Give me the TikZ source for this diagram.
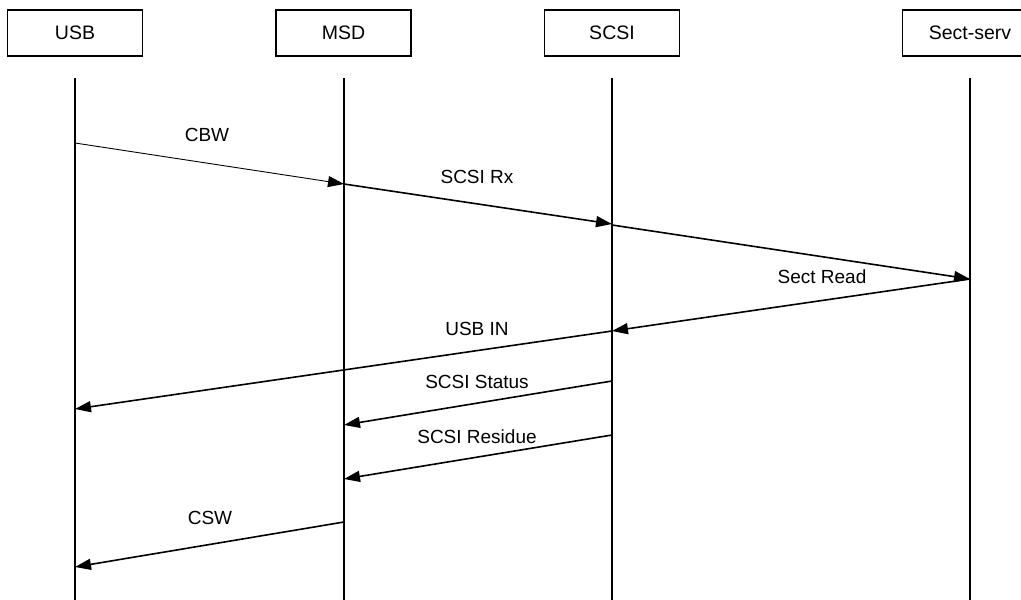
\documentclass[tikz,border=0pt]{standalone}
\usepackage{fontspec}
\setmainfont{Liberation Sans}
\usetikzlibrary{arrows.meta}
\begin{document}
\begin{tikzpicture}[x=1pt,y=-1pt,
  actor/.style={draw,line width=1.4pt,minimum width=135pt,minimum height=46pt,inner sep=0pt,font=\fontsize{19.5}{21}\selectfont},
  life/.style={line width=1.4pt},
  msg/.style={line width=1.6pt,-{Triangle[length=16pt,width=11pt]}},
  thinmsg/.style={line width=0.9pt,-{Triangle[length=16pt,width=11pt]}},
  lbl/.style={font=\fontsize{19}{21}\selectfont,inner sep=0pt}]
\useasboundingbox (0,0) rectangle (1021,600);
\clip (0,0) rectangle (1021,600);
% actors
\node[actor] (usb) at (75,33) {USB};
\node[actor] (msd) at (343.5,33) {MSD};
\node[actor] (scsi) at (612,33) {SCSI};
\node[actor] (sect) at (970,33) {Sect-serv};
% lifelines
\coordinate (usbT) at (75,78);   \coordinate (usbB) at (75,600);
\coordinate (msdT) at (344,78);  \coordinate (msdB) at (344,600);
\coordinate (scsiT) at (612,78); \coordinate (scsiB) at (612,600);
\coordinate (sectT) at (970,78); \coordinate (sectB) at (970,600);
\draw[life] (usbT) -- (usbB);
\draw[life] (msdT) -- (msdB);
\draw[life] (scsiT) -- (scsiB);
\draw[life] (sectT) -- (sectB);
% message points
\coordinate (u1) at (75,143);   \coordinate (m1) at (344,184);
\coordinate (s1) at (612,224);  \coordinate (s2) at (612,225);
\coordinate (e1) at (970,279);  \coordinate (s3) at (612,331);
\coordinate (u2) at (75,409);
\coordinate (s4) at (612,381);  \coordinate (m2) at (344,425);
\coordinate (s5) at (612,435);  \coordinate (m3) at (344,479);
\coordinate (m4) at (344,522);  \coordinate (u3) at (75,567);
% messages
\draw[thinmsg] (u1) -- (m1);
\draw[msg] (m1) -- (s1);
\draw[msg] (s2) -- (e1);
\draw[msg] (e1) -- (s3);
\draw[msg] (s3) -- (u2);
\draw[msg] (s4) -- (m2);
\draw[msg] (s5) -- (m3);
\draw[msg] (m4) -- (u3);
% labels
\node[lbl] (lcbw) at (207,135) {CBW};
\node[lbl] (lrx) at (477,177) {SCSI Rx};
\node[lbl] (lsr) at (822,277) {Sect Read};
\node[lbl] (lin) at (477,329) {USB IN};
\node[lbl] (lst) at (477,382) {SCSI Status};
\node[lbl] (lres) at (477,437) {SCSI Residue};
\node[lbl] (lcsw) at (210,518) {CSW};
\end{tikzpicture}
\end{document}
